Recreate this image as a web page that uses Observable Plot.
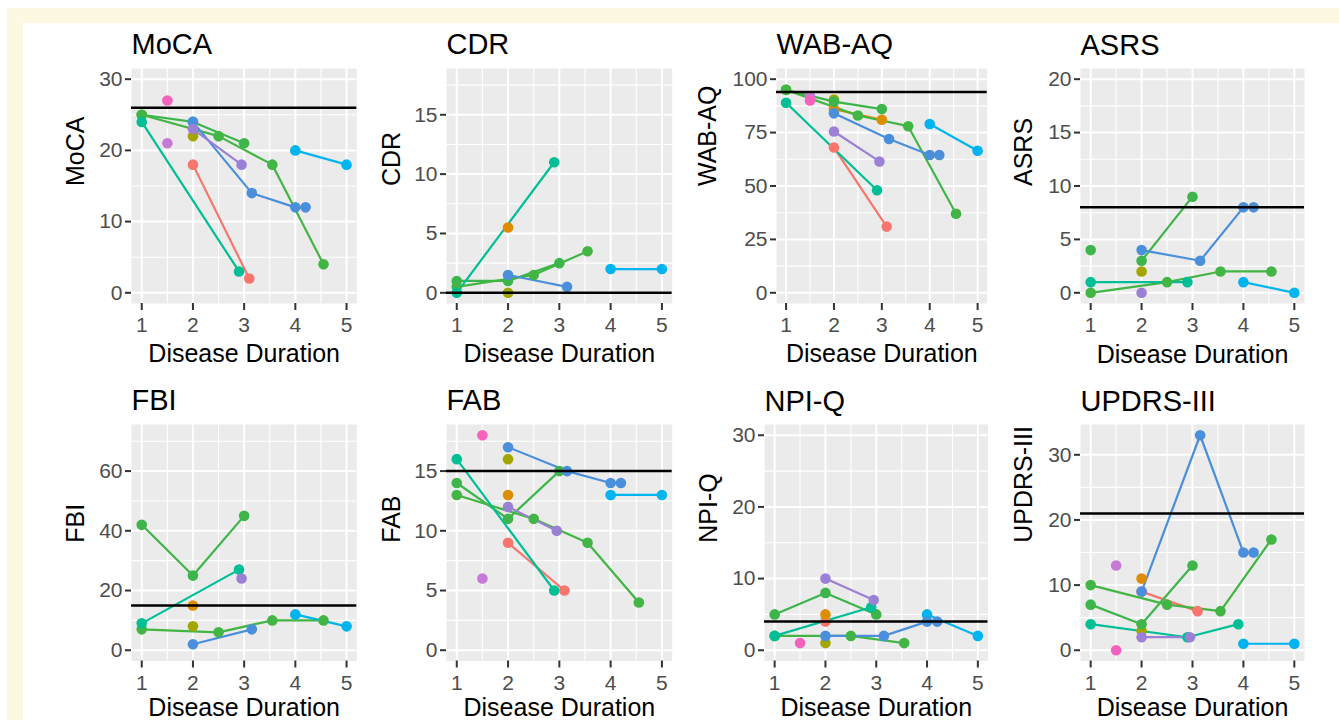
<!DOCTYPE html>
<html><head><meta charset="utf-8">
<script src="https://cdn.jsdelivr.net/npm/d3@7"></script>
<script src="https://cdn.jsdelivr.net/npm/@observablehq/plot@0.6"></script>
<style>
html,body{margin:0;padding:0;background:#fff;overflow:hidden;}
#wrap{position:relative;width:1339px;height:720px;overflow:hidden;background:#fff;}
.cream{position:absolute;background:#FDF8E2;}
.panel{position:absolute;}
</style></head><body>
<div id="wrap">
<div class="cream" style="left:7px;top:8px;width:1332px;height:15px"></div>
<div class="cream" style="left:7px;top:8px;width:16px;height:712px"></div>
</div>
<script>
// ---------------- data ----------------
const patientIds = ["P1","P2","P3","P4","P5","P6","P7","P8","P9","P10","P11","P12"];
const patientColors = ["#F8766D","#DE8C00","#A3A500","#3DB54A","#42B544","#00BF96","#00B4EF","#4A8FDB","#9B80D6","#C47AD6","#F462BE","#3DB54A"];

const measures = ["MoCA","CDR","WAB-AQ","ASRS","FBI","FAB","NPI-Q","UPDRS-III"];
const cutoffs  = [26, 0, 94, 8, 15, 15, 4, 21];
const yLimits  = [[0,30],[0,18],[0,100],[0,20],[0,72],[0,18],[0,30],[0,33]];
const yTicks   = [[0,10,20,30],[0,5,10,15],[0,25,50,75,100],[0,5,10,15,20],[0,20,40,60],[0,5,10,15],[0,10,20,30],[0,10,20,30]];
const xTicks   = [1,2,3,4,5];
const xLabel   = "Disease Duration";

// rows: [patient, disease duration, score]
const MoCA = [
  ["P1",2,18],["P1",3.1,2],
  ["P3",2,22],
  ["P4",1,25],["P4",2,24],["P4",3,21],
  ["P5",1,25],["P5",2.5,22],["P5",3.55,18],["P5",4.55,4],
  ["P6",1,24],["P6",2.9,3],
  ["P7",4,20],["P7",5,18],
  ["P8",2,24],["P8",3.15,14],["P8",4,12],["P8",4.2,12],
  ["P9",2,23],["P9",2.95,18],
  ["P10",1.5,21],
  ["P11",1.5,27]
];
const CDR = [
  ["P2",2,5.5],
  ["P3",2,0],
  ["P4",1,1],["P4",2,1],["P4",3,2.5],
  ["P5",1,0.5],["P5",2.5,1.5],["P5",3.55,3.5],
  ["P6",1,0],["P6",2.9,11],
  ["P7",4,2],["P7",5,2],
  ["P8",2,1.5],["P8",3.15,0.5]
];
const WAB_AQ = [
  ["P1",2,68],["P1",3.1,31],
  ["P2",2,86],["P2",3,81],
  ["P3",2,90.5],
  ["P4",1,95],["P4",2,89.5],["P4",3,86],
  ["P5",1,95],["P5",2.5,83],["P5",3.55,78],["P5",4.55,37],
  ["P6",1,89],["P6",2.9,48],
  ["P7",4,79],["P7",5,66.5],
  ["P8",2,84],["P8",3.15,72],["P8",4,64.5],["P8",4.2,64.5],
  ["P9",2,75.5],["P9",2.95,61.5],
  ["P10",1.5,92],
  ["P11",1.5,90]
];
const ASRS = [
  ["P3",2,2],
  ["P4",2,3],["P4",3,9],
  ["P5",1,0],["P5",2.5,1],["P5",3.55,2],["P5",4.55,2],
  ["P6",1,1],["P6",2.9,1],
  ["P7",4,1],["P7",5,0],
  ["P8",2,4],["P8",3.15,3],["P8",4,8],["P8",4.2,8],
  ["P9",2,0],
  ["P12",1,4]
];
const FBI = [
  ["P2",2,15],
  ["P3",2,8],
  ["P4",1,42],["P4",2,25],["P4",3,45],
  ["P5",1,7],["P5",2.5,6],["P5",3.55,10],["P5",4.55,10],
  ["P6",1,9],["P6",2.9,27],
  ["P7",4,12],["P7",5,8],
  ["P8",2,2],["P8",3.15,7],
  ["P9",2.95,24]
];
const FAB = [
  ["P1",2,9],["P1",3.1,5],
  ["P2",2,13],
  ["P3",2,16],
  ["P4",1,14],["P4",2,11],["P4",3,15],
  ["P5",1,13],["P5",2.5,11],["P5",3.55,9],["P5",4.55,4],
  ["P6",1,16],["P6",2.9,5],
  ["P7",4,13],["P7",5,13],
  ["P8",2,17],["P8",3.15,15],["P8",4,14],["P8",4.2,14],
  ["P9",2,12],["P9",2.95,10],
  ["P10",1.5,6],
  ["P11",1.5,18]
];
const NPI_Q = [
  ["P1",2,4],
  ["P2",2,5],
  ["P3",2,1],
  ["P4",1,5],["P4",2,8],["P4",3,5],
  ["P5",1,2],["P5",2.5,2],["P5",3.55,1],
  ["P6",1,2],["P6",2.9,6],
  ["P7",4,5],["P7",5,2],
  ["P8",2,2],["P8",3.15,2],["P8",4,4],["P8",4.2,4],
  ["P9",2,10],["P9",2.95,7],
  ["P11",1.5,1]
];
const UPDRS_III = [
  ["P1",2,9],["P1",3.1,6],
  ["P2",2,11],
  ["P3",2,3],
  ["P4",1,7],["P4",2,4],["P4",3,13],
  ["P5",1,10],["P5",2.5,7],["P5",3.55,6],["P5",4.55,17],
  ["P6",1,4],["P6",2.9,2],["P6",3.9,4],
  ["P7",4,1],["P7",5,1],
  ["P8",2,9],["P8",3.15,33],["P8",4,15],["P8",4.2,15],
  ["P9",2,2],["P9",2.95,2],
  ["P10",1.5,13],
  ["P11",1.5,0]
];
const scores = [MoCA, CDR, WAB_AQ, ASRS, FBI, FAB, NPI_Q, UPDRS_III];

// ---------------- layout ----------------
const boxes = [
  [130.7,356,68,303],[446,671.7,68,303],[776,986.7,68,303],[1080,1304,68,303],
  [130.7,356,423.5,660],[446,671.7,423.5,660],[763.5,987,423.5,660],[1080,1304,423.5,660]
];
const yTitleX = [83.5, 400, 716, 1031.7];
const xTitleDy = [59, 55];
const mL = 90, mR = 8, mT = 52, mB = 66;
const wrap = document.getElementById("wrap");
const font = "'Liberation Sans', Arial, Helvetica, sans-serif";

measures.forEach((name, i) => {
  const rows = scores[i].map(([patient, duration, score]) => ({patient, duration, score}));
  const [L, R, T, B] = boxes[i];
  const w = R - L, h = B - T;
  const [lo, hi] = yLimits[i];
  const pad = (hi - lo) * 0.05;
  const yDom = [lo - pad, hi + pad];
  const ticks = yTicks[i];
  const step = ticks[1] - ticks[0];
  const minorY = ticks.map(v => v + step / 2).filter(v => v > yDom[0] && v < yDom[1]);
  const minorX = xTicks.slice(0, -1).map(v => v + 0.5);
  const col = i % 4, row = Math.floor(i / 4);

  const svg = Plot.plot({
    width: mL + w + mR,
    height: mT + h + mB,
    marginLeft: mL, marginRight: mR, marginTop: mT, marginBottom: mB,
    style: {background: "transparent", fontFamily: font, overflow: "visible", maxWidth: "none"},
    x: {domain: [0.8, 5.2]},
    y: {domain: yDom},
    color: {domain: patientIds, range: patientColors},
    marks: [
      Plot.frame({fill: "#EBEBEB", stroke: "none"}),
      Plot.ruleX(minorX, {stroke: "white", strokeWidth: 1.1}),
      Plot.ruleY(minorY, {stroke: "white", strokeWidth: 1.1}),
      Plot.ruleX(xTicks, {stroke: "white", strokeWidth: 2}),
      Plot.ruleY(ticks, {stroke: "white", strokeWidth: 2}),
      Plot.line(rows, {x: "duration", y: "score", z: "patient", stroke: "patient", strokeWidth: 2.2}),
      Plot.dot(rows, {x: "duration", y: "score", fill: "patient", r: 5.3}),
      Plot.ruleY([cutoffs[i]], {stroke: "black", strokeWidth: 2.5}),
      Plot.axisX({ticks: xTicks, tickFormat: d => String(d), tickSize: 7, tickPadding: 7, fontSize: 21, fill: "#4D4D4D", stroke: "#333333", strokeWidth: 2, label: null}),
      Plot.axisY({ticks: ticks, tickFormat: d => String(d), tickSize: 6, tickPadding: 3, fontSize: 21, fill: "#4D4D4D", stroke: "#333333", strokeWidth: 2, label: null}),
      Plot.text([name], {text: d => d, frameAnchor: "top-left", dy: -14, textAnchor: "start", lineAnchor: "bottom", fontSize: 29, fill: "black"}),
      Plot.text([name], {text: d => d, frameAnchor: "left", dx: yTitleX[col] - L, rotate: -90, lineAnchor: "bottom", fontSize: 25, fill: "black"}),
      Plot.text([xLabel], {text: d => d, frameAnchor: "bottom", dy: xTitleDy[row], lineAnchor: "bottom", fontSize: 25, fill: "black"})
    ]
  });
  const div = document.createElement("div");
  div.className = "panel";
  div.style.left = (L - mL) + "px";
  div.style.top = (T - mT) + "px";
  div.style.width = (mL + w + mR) + "px";
  div.style.height = (mT + h + mB) + "px";
  div.appendChild(svg);
  wrap.appendChild(div);
});
</script>
</body></html>
